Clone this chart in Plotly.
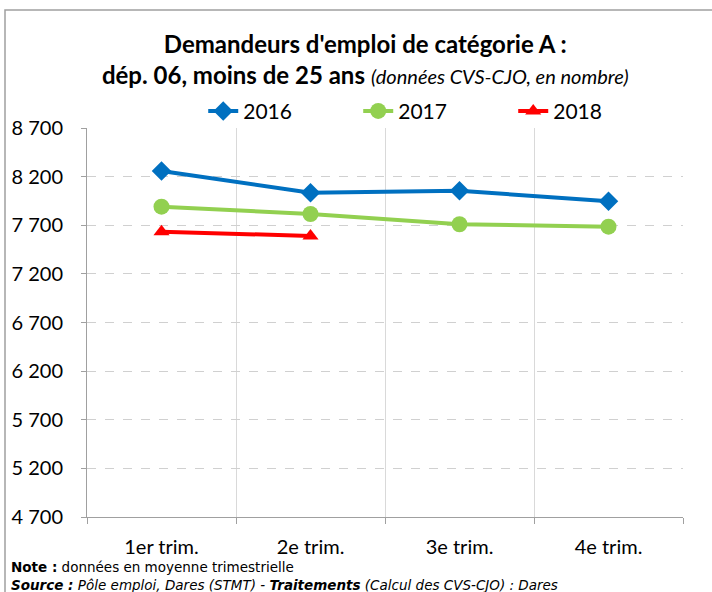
import plotly.graph_objects as go

categories = ["1er trim.", "2e trim.", "3e trim.", "4e trim."]
y2016 = [8258, 8035, 8055, 7946]
y2017 = [7891, 7816, 7710, 7685]
y2018 = [7634, 7590]
y_ticks = [4700, 5200, 5700, 6200, 6700, 7200, 7700, 8200, 8700]

FONT = "Lato, Noto Sans, sans-serif"
NOTE_FONT = "DejaVu Sans, Noto Sans, sans-serif"

fig = go.Figure()
fig.add_trace(go.Scatter(x=categories, y=y2016, name="2016", mode="lines+markers",
                         line=dict(color="#0070C0", width=4),
                         marker=dict(symbol="diamond", size=15, color="#0070C0")))
fig.add_trace(go.Scatter(x=categories, y=y2017, name="2017", mode="lines+markers",
                         line=dict(color="#92D050", width=4),
                         marker=dict(symbol="circle", size=16, color="#92D050")))
fig.add_trace(go.Scatter(x=categories[:len(y2018)], y=y2018, name="2018", mode="lines+markers",
                         line=dict(color="#FF0000", width=4),
                         marker=dict(symbol="triangle-up", size=14, color="#FF0000")))

fig.update_layout(
    width=712, height=592,
    margin=dict(l=87, r=29, t=128, b=75),
    paper_bgcolor="white", plot_bgcolor="white",
    separators=", ",
    font=dict(family=FONT, size=20, color="black"),
    title=dict(
        text="<b>Demandeurs d'emploi de catégorie A :</b><br><b>dép. 06, moins de 25 ans</b> <i><span style='font-size:20px'>(données CVS-CJO, en nombre)</span></i>",
        x=0.513, xanchor="center", xref="container", y=1 - 53 / 592, yanchor="middle", yref="container",
        font=dict(family=FONT, size=24, color="black"),
    ),
    legend=dict(orientation="h", x=0.195, xanchor="left", y=1.043, yanchor="middle",
                font=dict(family=FONT, size=21), entrywidth=110, entrywidthmode="pixels",
                bgcolor="rgba(0,0,0,0)"),
    showlegend=True,
    xaxis=dict(
        type="category", tickson="boundaries", showgrid=True, gridcolor="#D9D9D9",
        gridwidth=1, showline=True, linecolor="#A0A0A0", linewidth=1,
        ticks="outside", ticklen=6, tickcolor="#A0A0A0", ticklabelstandoff=12,
        tickfont=dict(family=FONT, size=20), range=[-0.5, 3.5],
    ),
    yaxis=dict(
        range=[4700, 8700], tickvals=y_ticks, tickformat=",d",
        showgrid=True, gridcolor="#D0D0D0", griddash="dash", gridwidth=1,
        showline=True, linecolor="#A0A0A0", linewidth=1,
        ticks="outside", ticklen=5, tickcolor="#A0A0A0", ticklabelstandoff=14,
        tickfont=dict(family=FONT, size=20), zeroline=False,
    ),
)

fig.add_annotation(xref="paper", yref="paper", x=(9 - 87) / 596, y=(517 - 567) / 389,
                   xanchor="left", yanchor="middle",
                   text="<b>Note :</b> données en moyenne trimestrielle", showarrow=False,
                   font=dict(family=NOTE_FONT, size=13.5))
fig.add_annotation(xref="paper", yref="paper", x=(9 - 87) / 596, y=(517 - 585) / 389,
                   xanchor="left", yanchor="middle",
                   text="<i><b>Source :</b> Pôle emploi, Dares (STMT) - <b>Traitements</b> (Calcul des CVS-CJO) : Dares</i>",
                   showarrow=False, font=dict(family=NOTE_FONT, size=13.5))

fig.add_shape(type="rect", xref="paper", yref="paper", x0=(5 - 87) / 596, x1=1.2,
              y0=-0.4, y1=(517 - 10) / 389,
              line=dict(color="#A0A0A0", width=1.5), fillcolor="rgba(0,0,0,0)", layer="below")

fig.write_html("out.html", config={"displayModeBar": False},
               post_script="document.body.style.margin='0';")
